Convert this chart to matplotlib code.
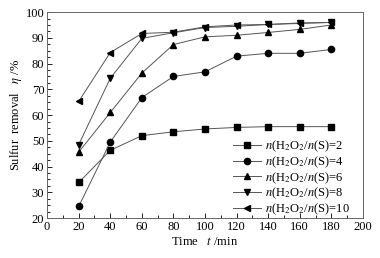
import matplotlib
matplotlib.use('Agg')
import matplotlib.pyplot as plt
from matplotlib.ticker import MultipleLocator

plt.rcParams['font.family'] = ['Liberation Serif', 'DejaVu Serif']
plt.rcParams['mathtext.fontset'] = 'stix'

# 数据
time = [20, 40, 60, 80, 100, 120, 140, 160, 180]
ratio_2 = [33.8, 46.3, 52.0, 53.5, 54.6, 55.2, 55.5, 55.5, 55.5]
ratio_4 = [24.5, 49.5, 66.8, 75.0, 76.8, 82.9, 84.0, 84.0, 85.5]
ratio_6 = [45.6, 61.0, 76.3, 87.4, 90.4, 91.0, 92.1, 93.3, 95.0]
ratio_8 = [48.5, 74.3, 89.8, 92.0, 94.0, 94.5, 95.2, 95.6, 96.0]
ratio_10 = [65.3, 84.3, 91.7, 92.2, 94.3, 95.0, 95.2, 95.8, 96.0]
labels = ['2', '4', '6', '8', '10']
markers = ['s', 'o', '^', 'v', '<']

fig = plt.figure(figsize=(3.8, 2.58), dpi=100)
ax = fig.add_axes([0.124, 0.155, 0.831, 0.798])

for y, lab, mk in zip([ratio_2, ratio_4, ratio_6, ratio_8, ratio_10], labels, markers):
    ax.plot(time, y, color='#555555', lw=0.7, marker=mk, markersize=4.5,
            markerfacecolor='black', markeredgecolor='black',
            label=r'$n$(H$_2$O$_2$/$n$(S)=' + lab)

ax.set_xlim(0, 200)
ax.set_ylim(20, 100)
ax.xaxis.set_major_locator(MultipleLocator(20))
ax.xaxis.set_minor_locator(MultipleLocator(10))
ax.yaxis.set_major_locator(MultipleLocator(10))
ax.yaxis.set_minor_locator(MultipleLocator(2.5))
ax.tick_params(which='both', direction='in', labelsize=9, pad=2)
ax.tick_params(which='major', length=3.5, width=0.6)
ax.tick_params(which='minor', length=2, width=0.6)
for s in ax.spines.values():
    s.set_color('#666666')
    s.set_linewidth(0.7)

ax.set_xlabel(r'Time   $t$ /min', fontsize=9, labelpad=2)
ax.set_ylabel(r'Sulfur  removal   $\eta$ /%', fontsize=9, labelpad=1)

ax.legend(loc='upper left', bbox_to_anchor=(0.59, 0.385), frameon=False,
          fontsize=9, handlelength=2.2, labelspacing=0.02, handletextpad=0.3,
          borderaxespad=0, borderpad=0)

fig.savefig('out.png', dpi=100)
